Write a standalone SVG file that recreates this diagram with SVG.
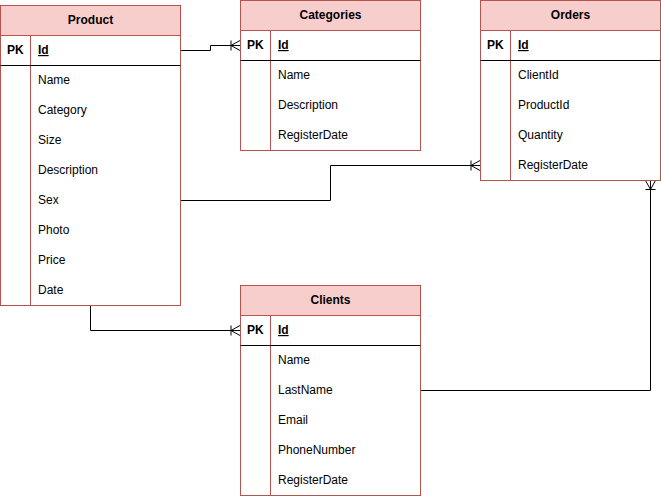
<svg xmlns="http://www.w3.org/2000/svg" width="661" height="496" viewBox="0 0 661 496">
<style>
.box{fill:#fff;stroke:#b85450;stroke-width:1}
.hdr{fill:#f8cecc;stroke:#b85450;stroke-width:1}
.div{stroke:#b85450;stroke-width:1}
.sep{stroke:#000;stroke-width:1}
text{font-family:"Liberation Sans",Arial,sans-serif;font-size:12px;fill:#000}
.t{font-weight:bold;text-anchor:middle}
.pk{font-weight:bold}
.id{font-weight:bold;text-decoration:underline}
.c{fill:none;stroke:#000;stroke-width:1}
</style>
<defs>
<marker id="many" markerUnits="userSpaceOnUse" viewBox="0 -6 11 12" refX="10" refY="0" markerWidth="11" markerHeight="12" orient="auto" overflow="visible">
<path d="M1,0 L10,-5 M1,0 L10,5 M1,-5 L1,5" fill="none" stroke="#000" stroke-width="1"/>
</marker>
</defs>
<rect width="661" height="496" fill="#fff"/>
<g id="connectors">
<path class="c" d="M180.5,50.5 H210.5 V45.5 H240" marker-end="url(#many)"/>
<path class="c" d="M180.5,200.5 H330.5 V165.5 H480" marker-end="url(#many)"/>
<path class="c" d="M90.5,305.5 V330.5 H240" marker-end="url(#many)"/>
<path class="c" d="M420.5,390.5 H650.5 V180.5" marker-end="url(#many)"/>
</g>
<g id="product">
<rect class="box" x="0.5" y="5.5" width="180" height="300"/>
<rect class="hdr" x="0.5" y="5.5" width="180" height="30"/>
<line class="div" x1="30.5" y1="35.5" x2="30.5" y2="305.5"/>
<line class="sep" x1="0.5" y1="65.5" x2="180.5" y2="65.5"/>
<text class="t" x="90.5" y="24">Product</text>
<text class="pk" x="7" y="54">PK</text>
<text class="id" x="38" y="54">Id</text>
<text x="38" y="84">Name</text>
<text x="38" y="114">Category</text>
<text x="38" y="144">Size</text>
<text x="38" y="174">Description</text>
<text x="38" y="204">Sex</text>
<text x="38" y="234">Photo</text>
<text x="38" y="264">Price</text>
<text x="38" y="294">Date</text>
</g>
<g id="categories">
<rect class="box" x="240.5" y="0.5" width="180" height="150"/>
<rect class="hdr" x="240.5" y="0.5" width="180" height="30"/>
<line class="div" x1="270.5" y1="30.5" x2="270.5" y2="150.5"/>
<line class="sep" x1="240.5" y1="60.5" x2="420.5" y2="60.5"/>
<text class="t" x="330.5" y="19">Categories</text>
<text class="pk" x="247" y="49">PK</text>
<text class="id" x="278" y="49">Id</text>
<text x="278" y="79">Name</text>
<text x="278" y="109">Description</text>
<text x="278" y="139">RegisterDate</text>
</g>
<g id="orders">
<rect class="box" x="480.5" y="0.5" width="180" height="180"/>
<rect class="hdr" x="480.5" y="0.5" width="180" height="30"/>
<line class="div" x1="510.5" y1="30.5" x2="510.5" y2="180.5"/>
<line class="sep" x1="480.5" y1="60.5" x2="660.5" y2="60.5"/>
<text class="t" x="570.5" y="19">Orders</text>
<text class="pk" x="487" y="49">PK</text>
<text class="id" x="518" y="49">Id</text>
<text x="518" y="79">ClientId</text>
<text x="518" y="109">ProductId</text>
<text x="518" y="139">Quantity</text>
<text x="518" y="169">RegisterDate</text>
</g>
<g id="clients">
<rect class="box" x="240.5" y="285.5" width="180" height="210"/>
<rect class="hdr" x="240.5" y="285.5" width="180" height="30"/>
<line class="div" x1="270.5" y1="315.5" x2="270.5" y2="495.5"/>
<line class="sep" x1="240.5" y1="345.5" x2="420.5" y2="345.5"/>
<text class="t" x="330.5" y="304">Clients</text>
<text class="pk" x="247" y="334">PK</text>
<text class="id" x="278" y="334">Id</text>
<text x="278" y="364">Name</text>
<text x="278" y="394">LastName</text>
<text x="278" y="424">Email</text>
<text x="278" y="454">PhoneNumber</text>
<text x="278" y="484">RegisterDate</text>
</g>
</svg>
